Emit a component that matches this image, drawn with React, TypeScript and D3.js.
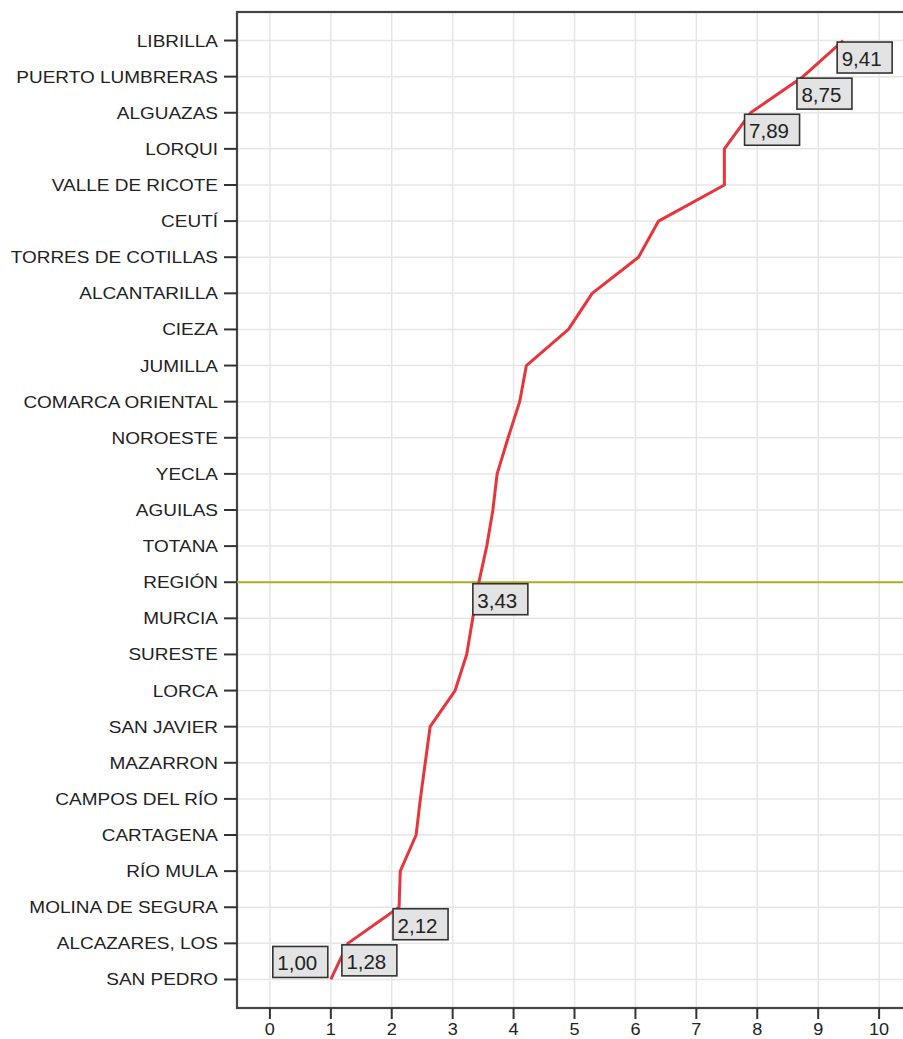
import React, { useEffect, useRef } from 'react';
import * as d3 from 'd3';

// categories from top to bottom
const municipios = [
  "LIBRILLA", "PUERTO LUMBRERAS", "ALGUAZAS", "LORQUI", "VALLE DE RICOTE",
  "CEUTÍ", "TORRES DE COTILLAS", "ALCANTARILLA", "CIEZA", "JUMILLA",
  "COMARCA ORIENTAL", "NOROESTE", "YECLA", "AGUILAS", "TOTANA",
  "REGIÓN", "MURCIA", "SURESTE", "LORCA", "SAN JAVIER",
  "MAZARRON", "CAMPOS DEL RÍO", "CARTAGENA", "RÍO MULA", "MOLINA DE SEGURA",
  "ALCAZARES, LOS", "SAN PEDRO"
];

const valores = [
  9.41, 8.75, 7.89, 7.46, 7.46,
  6.38, 6.05, 5.29, 4.90, 4.21,
  4.10, 3.91, 3.73, 3.66, 3.56,
  3.43, 3.33, 3.23, 3.04, 2.63,
  2.55, 2.47, 2.40, 2.14, 2.12,
  1.28, 1.00
];

const xTicks = [0, 1, 2, 3, 4, 5, 6, 7, 8, 9, 10];

// points that carry a value box
const etiquetados = ["LIBRILLA", "PUERTO LUMBRERAS", "ALGUAZAS", "REGIÓN", "MOLINA DE SEGURA", "ALCAZARES, LOS", "SAN PEDRO"];

const referencia = "REGIÓN";

const App = () => {
  const ref = useRef<SVGSVGElement | null>(null);
  const width = 903;
  const height = 1039;

  useEffect(() => {
    if (!ref.current) return;
    const svg = d3.select(ref.current);
    svg.selectAll("*").remove();

    const left = 237, right = 912, top = 12, bottom = 1008;
    const font = "'Liberation Sans', Arial, sans-serif";

    const x = d3.scaleLinear().domain([-0.54, 10.54]).range([left, right]);
    const y = d3.scalePoint<string>().domain(municipios).range([top, bottom]).padding(0.79);

    const fmt = (v: number) => d3.format(".2f")(v).replace(".", ",");

    // grid
    const grid = svg.append("g").attr("stroke", "#e6e6e6").attr("stroke-width", 1.5);
    grid.selectAll("line.v").data(xTicks).join("line")
      .attr("class", "v")
      .attr("x1", d => x(d)).attr("x2", d => x(d))
      .attr("y1", top).attr("y2", bottom);
    grid.selectAll("line.h").data(municipios.filter(d => d !== referencia)).join("line")
      .attr("class", "h")
      .attr("x1", left).attr("x2", right)
      .attr("y1", d => y(d)!).attr("y2", d => y(d)!);

    // frame
    svg.append("rect")
      .attr("x", left).attr("y", top)
      .attr("width", right - left).attr("height", bottom - top)
      .attr("fill", "none").attr("stroke", "#444").attr("stroke-width", 2.2);

    // reference line
    svg.append("line")
      .attr("x1", left).attr("x2", right)
      .attr("y1", y(referencia)!).attr("y2", y(referencia)!)
      .attr("stroke", "#aaae22").attr("stroke-width", 2);

    // y ticks and labels
    const yAxis = svg.append("g");
    yAxis.selectAll("line").data(municipios).join("line")
      .attr("x1", left - 13).attr("x2", left)
      .attr("y1", d => y(d)!).attr("y2", d => y(d)!)
      .attr("stroke", "#333").attr("stroke-width", 2);
    yAxis.selectAll("text").data(municipios).join("text")
      .attr("transform", d => `translate(${left - 19},${y(d)! + 6}) scale(1.13,1)`)
      .attr("text-anchor", "end")
      .attr("font-family", font)
      .attr("font-size", 16.8)
      .attr("fill", "#222")
      .text(d => d);

    // x ticks and labels
    const xAxis = svg.append("g");
    xAxis.selectAll("line").data(xTicks).join("line")
      .attr("x1", d => x(d)).attr("x2", d => x(d))
      .attr("y1", bottom).attr("y2", bottom + 11)
      .attr("stroke", "#333").attr("stroke-width", 2);
    xAxis.selectAll("text").data(xTicks).join("text")
      .attr("transform", d => `translate(${x(d)},${bottom + 27}) scale(1.13,1)`)
      .attr("text-anchor", "middle")
      .attr("font-family", font)
      .attr("font-size", 16)
      .attr("fill", "#222")
      .text(d => d);

    // the line
    const puntos = municipios.map((m, i) => ({ m, v: valores[i] }));
    const line = d3.line<{ m: string; v: number }>()
      .x(d => x(d.v))
      .y(d => y(d.m)!);
    svg.append("path")
      .datum(puntos)
      .attr("d", line)
      .attr("fill", "none")
      .attr("stroke", "#e8343c")
      .attr("stroke-width", 3)
      .attr("stroke-linejoin", "round");

    // value boxes
    const minV = d3.min(valores)!;
    const bw = 55, bh = 31;
    const boxes = svg.append("g").selectAll("g")
      .data(puntos.filter(d => etiquetados.includes(d.m)))
      .join("g")
      .attr("transform", d => {
        const px = x(d.v), py = y(d.m)!;
        return d.v === minV
          ? `translate(${px - 3 - bw},${py - 2 - bh})`
          : `translate(${px - 6},${py + 1.5})`;
      });
    boxes.append("rect")
      .attr("width", bw).attr("height", bh)
      .attr("fill", "#e3e3e3")
      .attr("stroke", "#333").attr("stroke-width", 1.6);
    boxes.append("text")
      .attr("x", 4.5).attr("y", 24)
      .attr("font-family", font)
      .attr("font-size", 20.5)
      .attr("fill", "#222")
      .text(d => fmt(d.v));
  }, []);

  return (
    <svg
      ref={ref}
      width={width}
      height={height}
      style={{ position: "absolute", left: 0, top: 0, background: "white" }}
    />
  );
};

export default App;
